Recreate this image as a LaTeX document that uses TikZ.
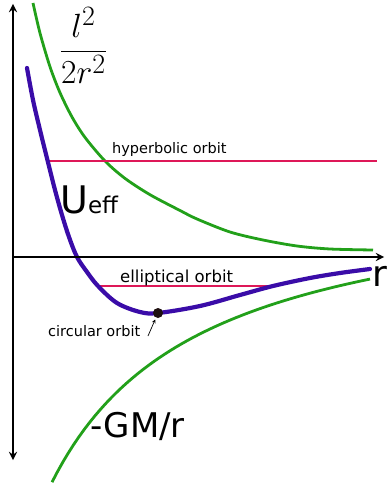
\documentclass[tikz,border=0pt]{standalone}
\usepackage{fontspec}
\setmainfont{DejaVu Sans}
\definecolor{pot}{RGB}{58,12,168}
\definecolor{grn}{RGB}{34,160,26}
\definecolor{orb}{RGB}{222,24,88}
\definecolor{dotc}{RGB}{30,16,16}
\begin{document}
\begin{tikzpicture}[x=1pt, y=-1pt, >=stealth,
    axis/.style={line width=2.6pt, black},
    curveg/.style={grn, line width=2.8pt},
    curvep/.style={pot, line width=4.2pt, line cap=round, line join=round},
    orbit/.style={orb, line width=1.8pt},
    lab/.style={inner sep=0pt, anchor=base west}]
    \useasboundingbox (0,0) rectangle (387,487);

    % green: centrifugal term and gravity term
    \draw[curveg] plot[smooth, tension=0.5] coordinates {(33,3) (40,33.1) (50,66.8) (60,92.7) (72,117) (85,137.4) (105,161) (125,178.4) (150,194.7) (180,210.5) (197,219) (230,232) (263,240) (297,246) (330,249) (373,250)};
    \draw[curveg] plot[domain=52:370, samples=60] (\x, {182.7+451.68/((\x+98.9)*0.01)});

    % orbit levels
    \coordinate (hypL) at (47.7,161);
    \coordinate (hypR) at (377,161);
    \coordinate (ellL) at (98,286);
    \coordinate (ellR) at (273,286);
    \draw[orbit] (hypL) -- (hypR);
    \draw[orbit] (ellL) -- (ellR);

    % effective potential
    \draw[curvep] plot[smooth, tension=0.55] coordinates {(27,68) (33,100) (40,130) (47.7,161) (55,190) (62,215) (69,237) (77,257) (87,272) (98,286) (117,303) (140,312) (158,313) (200,306) (240,295) (273,286) (310,278) (340,273) (370,269)};
    \coordinate (circdot) at (158,313);
    \fill[dotc] (circdot) circle (5pt);

    % axes
    \draw[axis, <->] (13,460) -- (13,4);
    \draw[axis, ->] (13,257) -- (384,257);

    % labels
    \node[lab] (hyp) at (112,153) {\fontsize{14.5}{16}\selectfont hyperbolic orbit};
    \node[lab] (ell) at (120,282) {\fontsize{16.5}{18}\selectfont elliptical orbit};
    \node[lab] (circ) at (48,336) {\fontsize{14.5}{16}\selectfont circular orbit};
    \node[lab] (ueff) at (60,213) {\fontsize{38}{40}\selectfont U\fontsize{23}{25}\selectfont eff};
    \node[lab] (gm) at (90,437) {\fontsize{34}{36}\selectfont -GM/r};
    \node[lab] (rlab) at (372,286) {\fontsize{36}{38}\selectfont r};
    \node[inner sep=0pt] (cent) at (83.5,45) {\fontsize{24.88}{28}\selectfont\scalebox{1.35}{$\displaystyle\frac{l^2}{2r^2}$}};

    \coordinate (ptail) at (148,336);
    \draw[->, line width=0.7pt, shorten >=7pt] (ptail) -- (circdot);
\end{tikzpicture}
\end{document}
